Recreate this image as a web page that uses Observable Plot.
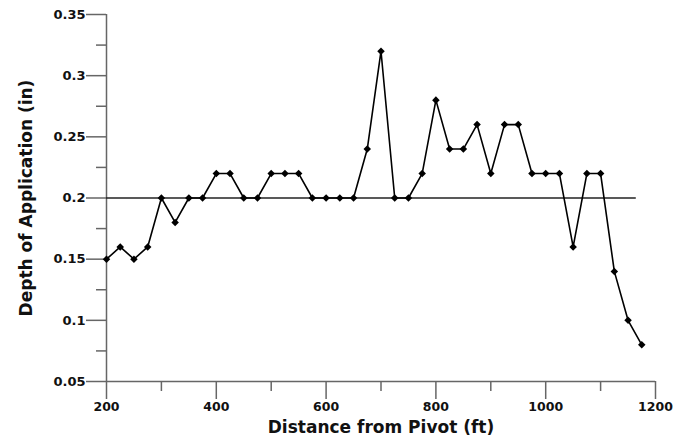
<!DOCTYPE html>
<html>
<head>
<meta charset="utf-8">
<script src="https://cdn.jsdelivr.net/npm/d3@7"></script>
<script src="https://cdn.jsdelivr.net/npm/@observablehq/plot@0.6"></script>
<style>
  html, body { margin: 0; padding: 0; background: #fff; }
  #chart svg { display: block; }
</style>
</head>
<body>
<div id="chart"></div>
<script>
const distance = [200, 225, 250, 275, 300, 325, 350, 375, 400, 425, 450, 475, 500, 525, 550, 575, 600, 625, 650, 675, 700, 725, 750, 775, 800, 825, 850, 875, 900, 925, 950, 975, 1000, 1025, 1050, 1075, 1100, 1125, 1150, 1175];
const depth = [0.15, 0.16, 0.15, 0.16, 0.20, 0.18, 0.20, 0.20, 0.22, 0.22, 0.20, 0.20, 0.22, 0.22, 0.22, 0.20, 0.20, 0.20, 0.20, 0.24, 0.32, 0.20, 0.20, 0.22, 0.28, 0.24, 0.24, 0.26, 0.22, 0.26, 0.26, 0.22, 0.22, 0.22, 0.16, 0.22, 0.22, 0.14, 0.10, 0.08];
const targetDepth = 0.2;
const targetLineEnd = 1165;
const xMajorTicks = [200, 400, 600, 800, 1000, 1200];
const xMajorLabels = ["200", "400", "600", "800", "1000", "1200"];
const xMinorTicks = [300, 500, 700, 900, 1100];
const yMajorTicks = [0.05, 0.1, 0.15, 0.2, 0.25, 0.3, 0.35];
const yMajorLabels = ["0.05", "0.1", "0.15", "0.2", "0.25", "0.3", "0.35"];
const yMinorTicks = [0.075, 0.125, 0.175, 0.225, 0.275, 0.325];
const xTitle = "Distance from Pivot (ft)";
const yTitle = "Depth of Application (in)";

const data = distance.map((d, i) => ({x: d, y: depth[i]}));
const axisColor = "#666";
const fontFam = "'DejaVu Sans', Verdana, sans-serif";

const chart = Plot.plot({
  width: 673,
  height: 442,
  marginLeft: 106,
  marginRight: 18,
  marginTop: 14,
  marginBottom: 61,
  style: {fontFamily: fontFam, fontSize: "13px", fontWeight: "bold", color: "#111", background: "#fff"},
  x: {domain: [200, 1200], label: null},
  y: {domain: [0.05, 0.35], label: null},
  marks: [
    // axis lines
    Plot.ruleX([200], {y1: 0.05, y2: 0.35, stroke: axisColor, strokeWidth: 1.5}),
    Plot.ruleY([0.05], {x1: 200, x2: 1200, stroke: axisColor, strokeWidth: 1.5}),
    // y axis
    Plot.axisY({ticks: yMinorTicks, tickSize: 10, tickFormat: () => "", stroke: axisColor, strokeWidth: 1.5}),
    Plot.axisY({ticks: yMajorTicks, tickSize: 20, tickPadding: 1, stroke: axisColor, strokeWidth: 1.5,
      tickFormat: (d) => yMajorLabels[yMajorTicks.findIndex(t => Math.abs(t - d) < 1e-9)],
      fill: "#111", fontWeight: "bold", fontSize: 13, label: null}),
    // x axis
    Plot.axisX({ticks: xMinorTicks, tickSize: 10, tickFormat: () => "", stroke: axisColor, strokeWidth: 1.5}),
    Plot.axisX({ticks: xMajorTicks, tickSize: 18, tickPadding: 3, stroke: axisColor, strokeWidth: 1.5,
      tickFormat: (d) => xMajorLabels[xMajorTicks.indexOf(d)],
      fill: "#111", fontWeight: "bold", fontSize: 12.5, label: null}),
    // target line
    Plot.ruleY([targetDepth], {x1: 200, x2: targetLineEnd, stroke: "#222", strokeWidth: 1.5}),
    // data
    Plot.line(data, {x: "x", y: "y", stroke: "#000", strokeWidth: 1.6}),
    Plot.dot(data, {x: "x", y: "y", symbol: "square", rotate: 45, r: 3, fill: "#000", stroke: "none"}),
    // titles
    Plot.text([xTitle], {frameAnchor: "bottom", dy: 51, fontSize: 17, fontWeight: "bold", fill: "#111"}),
    Plot.text([yTitle], {frameAnchor: "left", textAnchor: "middle", dx: -80, rotate: -90, fontSize: 17, fontWeight: "bold", fill: "#111"})
  ]
});
document.getElementById("chart").appendChild(chart);
</script>
</body>
</html>
